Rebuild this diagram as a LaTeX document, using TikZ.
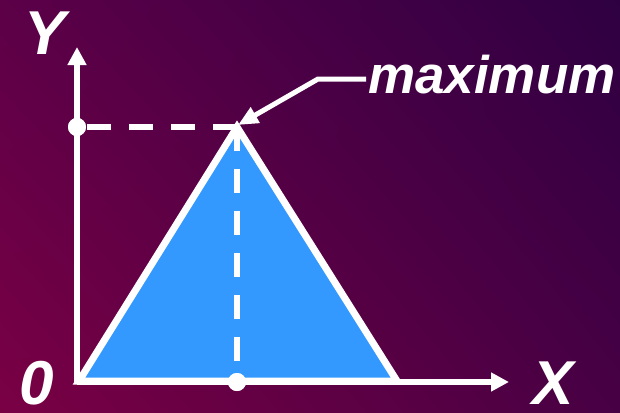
\documentclass[tikz,border=0pt]{standalone}
\usepackage{fontspec}
\setmainfont{Liberation Sans}
\usetikzlibrary{arrows.meta,shadings}
\definecolor{bgUL}{RGB}{92,0,72}
\definecolor{bgUR}{RGB}{46,0,66}
\definecolor{bgLL}{RGB}{122,0,68}
\definecolor{bgLR}{RGB}{72,0,68}
\definecolor{triblue}{RGB}{51,153,255}
\tikzset{
  axisline/.style={white, line width=5.5pt, -{Triangle[length=18pt,width=18pt]}},
  dashline/.style={white, line width=6pt, dash pattern=on 24pt off 18pt},
  dotnode/.style={circle, fill=white, minimum size=18pt, inner sep=0pt},
  biglabel/.style={text=white, font=\fontsize{62}{62}\selectfont\bfseries\itshape, inner sep=0pt},
  maxlabel/.style={text=white, font=\fontsize{53}{53}\selectfont\bfseries\itshape, inner sep=0pt},
  pointer/.style={white, line width=5pt, -{Triangle[length=20pt,width=17pt]}}
}
\begin{document}
\begin{tikzpicture}[x=1pt,y=-1pt]
\useasboundingbox (0,0) rectangle (620,412);
\shade[upper left=bgUL, upper right=bgUR, lower left=bgLL, lower right=bgLR] (0,0) rectangle (620,412);
\coordinate (O) at (77,382);
\coordinate (L) at (79,381);
\coordinate (A) at (237,127);
\coordinate (R) at (397,381);
\coordinate (Xtip) at (509,382);
\coordinate (Ytip) at (77,47);
\coordinate (Pstart) at (366,79);
\coordinate (Pbend) at (318,79);
\coordinate (Ptip) at (238,125);
\filldraw[fill=triblue, draw=white, line width=7pt] (L) -- (A) -- (R) -- cycle;
\node[dotnode] (ydot) at (77,127) {};
\node[dotnode] (xdot) at (237,382) {};
\draw[dashline] (A) -- (ydot.center);
\draw[dashline] (A) -- (xdot.center);
\draw[axisline] (O) -- (Ytip);
\draw[axisline] (O) -- (Xtip);
\node[dotnode] at (ydot) {};
\node[dotnode] at (xdot) {};
\draw[pointer] (Pstart) -- (Pbend) -- (Ptip);
\node[biglabel] (ylab) at (45,33) {Y};
\node[biglabel] (xlab) at (553,383) {X};
\node[biglabel] (zlab) at (37,383) {0};
\node[maxlabel, anchor=base west] (maxlab) at (368,93) {maximum};
\end{tikzpicture}
\end{document}
